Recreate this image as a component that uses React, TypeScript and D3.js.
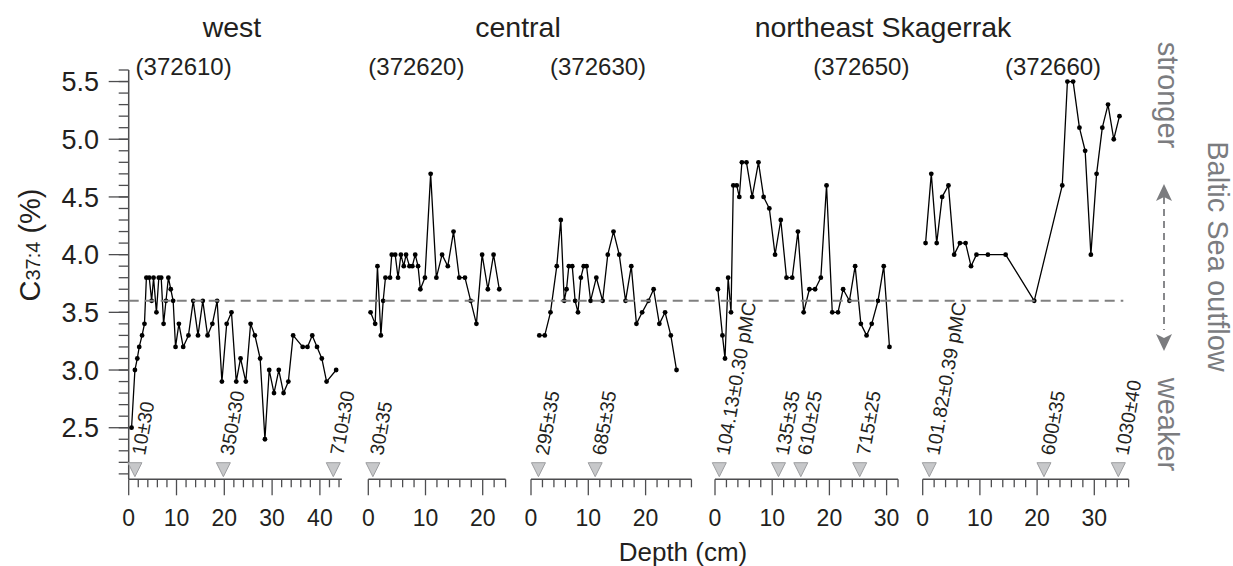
import React from "react";
import * as d3 from "d3";

// ---------- DATA ----------
const coreIds = ["(372610)", "(372620)", "(372630)", "(372650)", "(372660)"];
const regionTitles = ["west", "central", "northeast Skagerrak"];

const depth372610 = [0.6, 1.3, 1.8, 2.2, 2.8, 3.3, 3.7, 4.3, 4.8, 5.2, 5.8, 6.3, 6.8, 7.3, 7.8, 8.3, 8.8, 9.3, 9.8, 10.5, 11.4, 12.5, 13.5, 14.5, 15.5, 16.5, 17.5, 18.5, 19.5, 20.5, 21.5, 22.5, 23.4, 24.5, 25.5, 26.4, 27.5, 28.5, 29.4, 30.4, 31.4, 32.4, 33.4, 34.4, 36.4, 37.4, 38.4, 39.4, 40.4, 41.4, 43.4];
const c374_372610 = [2.5, 3.0, 3.1, 3.2, 3.3, 3.4, 3.8, 3.8, 3.6, 3.8, 3.5, 3.8, 3.8, 3.4, 3.6, 3.8, 3.7, 3.6, 3.2, 3.4, 3.2, 3.3, 3.6, 3.3, 3.6, 3.3, 3.4, 3.6, 2.9, 3.4, 3.5, 2.9, 3.1, 2.9, 3.4, 3.3, 3.1, 2.4, 3.0, 2.8, 3.0, 2.8, 2.9, 3.3, 3.2, 3.2, 3.3, 3.2, 3.1, 2.9, 3.0];

const depth372620 = [0.4, 1.2, 1.6, 2.2, 2.6, 3.0, 3.8, 4.1, 4.7, 5.2, 5.7, 6.2, 6.6, 7.2, 7.7, 8.2, 8.7, 9.1, 9.9, 10.9, 11.9, 12.9, 13.9, 14.9, 15.9, 16.9, 17.9, 18.9, 19.9, 20.9, 21.9, 22.9];
const c374_372620 = [3.5, 3.4, 3.9, 3.3, 3.6, 3.8, 3.8, 4.0, 4.0, 3.8, 4.0, 3.9, 4.0, 3.9, 3.9, 4.0, 3.9, 3.7, 3.8, 4.7, 3.8, 4.0, 3.9, 4.2, 3.8, 3.8, 3.6, 3.4, 4.0, 3.7, 4.0, 3.7];

const depth372630 = [1.45, 2.4, 3.4, 4.5, 5.2, 5.8, 6.2, 6.6, 7.2, 7.7, 8.2, 8.7, 9.2, 9.7, 10.4, 11.4, 12.5, 13.4, 14.4, 15.4, 16.5, 17.5, 18.4, 19.4, 20.5, 21.4, 22.4, 23.4, 24.4, 25.4];
const c374_372630 = [3.3, 3.3, 3.5, 3.9, 4.3, 3.6, 3.7, 3.9, 3.9, 3.6, 3.5, 3.8, 3.9, 3.9, 3.6, 3.8, 3.6, 4.0, 4.2, 4.0, 3.6, 3.9, 3.4, 3.5, 3.6, 3.7, 3.4, 3.5, 3.3, 3.0];

const depth372650 = [0.5, 1.3, 1.75, 2.3, 2.8, 3.2, 3.8, 4.25, 4.7, 5.5, 6.5, 7.6, 8.5, 9.5, 10.5, 11.5, 12.5, 13.5, 14.5, 15.5, 16.5, 17.5, 18.5, 19.5, 20.5, 21.5, 22.4, 23.5, 24.5, 25.5, 26.5, 27.4, 28.5, 29.5, 30.5];
const c374_372650 = [3.7, 3.3, 3.1, 3.8, 3.5, 4.6, 4.6, 4.5, 4.8, 4.8, 4.5, 4.8, 4.5, 4.4, 4.0, 4.3, 3.8, 3.8, 4.2, 3.5, 3.7, 3.7, 3.8, 4.6, 3.5, 3.5, 3.7, 3.6, 3.9, 3.4, 3.3, 3.4, 3.6, 3.9, 3.2];

const depth372660 = [0.5, 1.5, 2.45, 3.4, 4.5, 5.5, 6.5, 7.5, 8.45, 9.4, 11.4, 14.5, 19.5, 24.4, 25.3, 26.3, 27.4, 28.4, 29.4, 30.4, 31.4, 32.4, 33.4, 34.4];
const c374_372660 = [4.1, 4.7, 4.1, 4.5, 4.6, 4.0, 4.1, 4.1, 3.9, 4.0, 4.0, 4.0, 3.6, 4.6, 5.5, 5.5, 5.1, 4.9, 4.0, 4.7, 5.1, 5.3, 5.0, 5.2];

// radiocarbon ages (depth in cm, label)
const dateDepth372610 = [1.3, 19.8, 42.8];
const dateLabel372610 = ["10±30", "350±30", "710±30"];
const dateDepth372620 = [0.8];
const dateLabel372620 = ["30±35"];
const dateDepth372630 = [1.3, 11.2];
const dateLabel372630 = ["295±35", "685±35"];
const dateDepth372650 = [0.75, 11.1, 15.0, 25.3];
const dateLabel372650 = ["104.13±0.30 pMC", "135±35", "610±25", "715±25"];
const dateDepth372660 = [1.15, 21.2, 34.2];
const dateLabel372660 = ["101.82±0.39 pMC", "600±35", "1030±40"];

const depthMax = [44.6, 24, 28, 32, 36];
const xTickLabels = [[0, 10, 20, 30, 40], [0, 10, 20], [0, 10, 20], [0, 10, 20, 30], [0, 10, 20, 30]];
const yTicks = [2.5, 3.0, 3.5, 4.0, 4.5, 5.0, 5.5];
const referenceLevel = 3.6;

// ---------- LAYOUT ----------
const W = 1233;
const H = 566;
const panelLeft = [128.7, 368.3, 531, 715, 922.7];
const pxPerCm = [4.78, 5.72, 5.73, 5.72, 5.72];
const titleX = [232, 518, 883];
const coreLabelX = [135.6, 368.3, 550, 813.3, 1005];
const axisY = 479.3;
const FONT = "'Liberation Sans', Arial, Helvetica, sans-serif";
const TXT = "#231f20";
const AX = "#4d4d4f";
const GREY = "#7b7c7f";

const panels = [
  { depth: depth372610, val: c374_372610, dd: dateDepth372610, dl: dateLabel372610 },
  { depth: depth372620, val: c374_372620, dd: dateDepth372620, dl: dateLabel372620 },
  { depth: depth372630, val: c374_372630, dd: dateDepth372630, dl: dateLabel372630 },
  { depth: depth372650, val: c374_372650, dd: dateDepth372650, dl: dateLabel372650 },
  { depth: depth372660, val: c374_372660, dd: dateDepth372660, dl: dateLabel372660 },
];

export default function App() {
  const y = d3.scaleLinear().domain([2.053, 5.6]).range([axisY, 70]);
  const yMinor = d3.range(21, 57).map((d) => d / 10);

  const xScales = panels.map((_, i) =>
    d3.scaleLinear().domain([0, depthMax[i]]).range([panelLeft[i], panelLeft[i] + pxPerCm[i] * depthMax[i]])
  );

  const yAxisX = panelLeft[0];
  const dashEnd = 1123.3;

  return (
    <svg
      width={W}
      height={H}
      style={{ position: "absolute", left: 0, top: 0, background: "#fff" }}
      fontFamily={FONT}
    >
      {/* region titles */}
      {regionTitles.map((t, i) => (
        <text key={t} x={titleX[i]} y={37} fontSize={28.5} textAnchor="middle" fill={TXT}>
          {t}
        </text>
      ))}
      {coreIds.map((t, i) => (
        <text key={t} x={coreLabelX[i]} y={75} fontSize={24} fill={TXT}>
          {t}
        </text>
      ))}

      {/* Y axis */}
      <line x1={yAxisX} x2={yAxisX} y1={y(5.6)} y2={axisY} stroke={AX} strokeWidth={1.5} />
      {yMinor.map((v) => (
        <line key={"ym" + v} x1={yAxisX - 10} x2={yAxisX} y1={y(v)} y2={y(v)} stroke={AX} strokeWidth={1.3} />
      ))}
      {yTicks.map((v) => (
        <g key={"yt" + v}>
          <line x1={yAxisX - 20} x2={yAxisX} y1={y(v)} y2={y(v)} stroke={AX} strokeWidth={1.3} />
          <text x={99} y={y(v)} dy="0.36em" fontSize={27} textAnchor="end" fill={TXT}>
            {v.toFixed(1)}
          </text>
        </g>
      ))}
      <text transform={`translate(40,245) rotate(-90)`} textAnchor="middle" fill={TXT} fontSize={29}>
        <tspan>C</tspan>
        <tspan fontSize={20}>37:4</tspan>
        <tspan> (%)</tspan>
      </text>

      {/* X axes */}
      {xScales.map((xs, i) => {
        const minor = d3.range(0, Math.floor(depthMax[i]) + 0.001, 2);
        return (
          <g key={"xa" + i}>
            <line x1={xs(0)} x2={xs(depthMax[i])} y1={axisY} y2={axisY} stroke={AX} strokeWidth={1.5} />
            {minor.map((m) => (
              <line key={m} x1={xs(m)} x2={xs(m)} y1={axisY} y2={axisY + (m % 10 === 0 ? 16 : 8)} stroke={AX} strokeWidth={1.3} />
            ))}
            {xTickLabels[i].map((t) => (
              <text key={"l" + t} x={xs(t)} y={526} fontSize={23} textAnchor="middle" fill={TXT}>
                {t}
              </text>
            ))}
          </g>
        );
      })}
      <text x={683} y={561} fontSize={26} textAnchor="middle" fill={TXT}>
        Depth (cm)
      </text>

      {/* data */}
      {panels.map((p, i) => {
        const xs = xScales[i];
        const pts: [number, number][] = p.depth.map((d, j) => [d, p.val[j]]);
        const line = d3
          .line<[number, number]>()
          .x((d) => xs(d[0]))
          .y((d) => y(d[1]));
        return (
          <g key={"d" + i}>
            <path d={line(pts) || ""} fill="none" stroke="#000" strokeWidth={1.3} strokeLinejoin="round" />
            {pts.map((d, j) => (
              <circle key={j} cx={xs(d[0])} cy={y(d[1])} r={2.4} fill="#000" />
            ))}
          </g>
        );
      })}

      {/* reference dashed line */}
      <line
        x1={yAxisX}
        x2={dashEnd}
        y1={y(referenceLevel)}
        y2={y(referenceLevel)}
        stroke="#808080"
        strokeWidth={2}
        strokeDasharray="10 6"
      />

      {/* radiocarbon dates */}
      {panels.map((p, i) => {
        const xs = xScales[i];
        return (
          <g key={"r" + i}>
            {p.dd.map((d, j) => {
              const cx = xs(d);
              return (
                <g key={j}>
                  <path
                    d={`M${cx - 7},462.7 L${cx + 7},462.7 L${cx},476.7 Z`}
                    fill="#c7c8ca"
                    stroke="#9d9ea1"
                    strokeWidth={1}
                  />
                  <text
                    transform={`translate(${cx + 10},456) rotate(-80)`}
                    fontSize={19.5}
                    fill={TXT}
                  >
                    {p.dl[j]}
                  </text>
                </g>
              );
            })}
          </g>
        );
      })}

      {/* right annotation */}
      <text transform="translate(1158,95) rotate(90)" textAnchor="middle" fontSize={29} fill={GREY}>
        stronger
      </text>
      <text transform="translate(1158,424.5) rotate(90)" textAnchor="middle" fontSize={29} fill={GREY}>
        weaker
      </text>
      <text transform="translate(1208,256.5) rotate(90)" textAnchor="middle" fontSize={29} fill={GREY}>
        Baltic Sea outflow
      </text>
      <line x1={1164} x2={1164} y1={197} y2={330} stroke={GREY} strokeWidth={1.8} strokeDasharray="7 5" />
      <path d="M1164,184 L1172,201 L1164,197 L1156,201 Z" fill={GREY} />
      <path d="M1164,351 L1172,334 L1164,338 L1156,334 Z" fill={GREY} />
    </svg>
  );
}
